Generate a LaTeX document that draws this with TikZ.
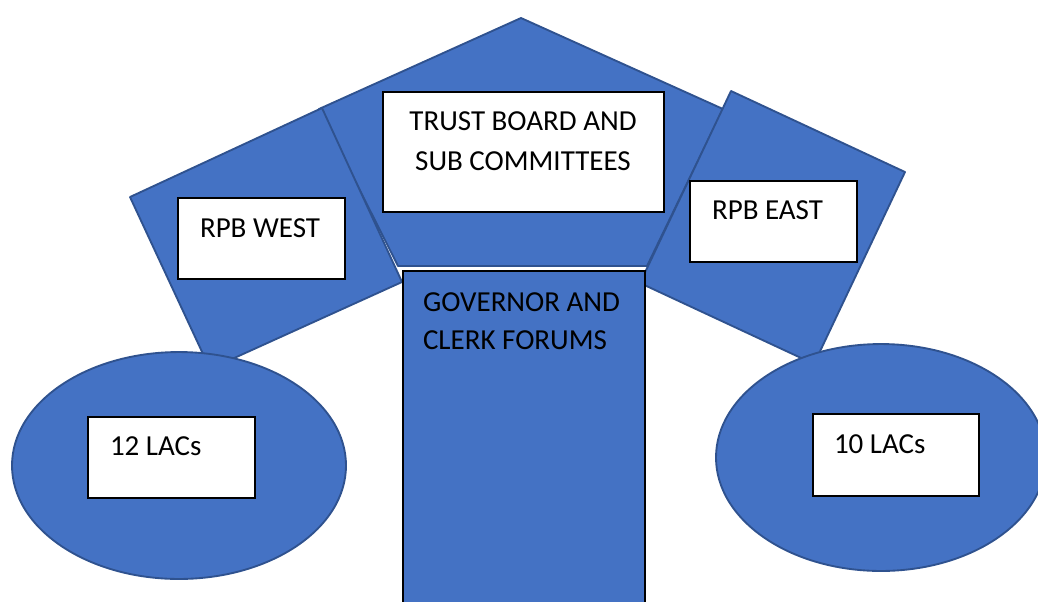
\documentclass[tikz,border=0pt]{standalone}
\usepackage{fontspec}
\setmainfont{Carlito}
\definecolor{fillblue}{HTML}{4472C4}
\definecolor{edgeblue}{HTML}{2F528F}
\begin{document}
\begin{tikzpicture}[x=0.75pt,y=-0.75pt,
  blueshape/.style={fill=fillblue, draw=edgeblue, line width=1.4pt, line join=round},
  whitebox/.style={draw=black, fill=white, line width=1.4pt, inner sep=0pt, outer sep=0pt, anchor=north west},
  forumbox/.style={draw=black, fill=fillblue, line width=1.2pt, inner sep=0pt, outer sep=0pt, anchor=north west},
  lbl/.style={anchor=base west, inner sep=0pt, outer sep=0pt, text=black, font=\fontsize{21.75}{30}\selectfont},
  clbl/.style={lbl, anchor=base}]
\useasboundingbox (0,0) rectangle (1038,601);
\clip (0,0) rectangle (1038,601);
% pentagon
\draw[blueshape] (521,18) -- (723,109) -- (647,266) -- (398,266) -- (319,109) -- cycle;
% rotated squares
\draw[blueshape] (130,197) -- (322,108) -- (402,282) -- (210,369) -- cycle;
\draw[blueshape] (731,91) -- (905,172) -- (814,364) -- (640,283) -- cycle;
% ellipses
\draw[blueshape] (179,465.5) ellipse [x radius=125.25pt, y radius=85.1pt];
\draw[blueshape] (881,457.5) ellipse [x radius=123.75pt, y radius=85.1pt];
% governor rectangle
\node[forumbox, minimum width=242*0.75pt, minimum height=360*0.75pt] (forum) at (403,271) {};
% white boxes
\node[whitebox, minimum width=281*0.75pt, minimum height=120*0.75pt] (trust) at (383,92) {};
\node[whitebox, minimum width=167*0.75pt, minimum height=81*0.75pt] (west) at (178,198) {};
\node[whitebox, minimum width=167*0.75pt, minimum height=81*0.75pt] (east) at (690,181) {};
\node[whitebox, minimum width=167*0.75pt, minimum height=81*0.75pt] (lacw) at (88,417) {};
\node[whitebox, minimum width=166*0.75pt, minimum height=82*0.75pt] (lace) at (813,414) {};
% texts
\node[clbl] (trustA) at (523,130) {TRUST BOARD AND};
\node[clbl] (trustB) at (523,170) {SUB COMMITTEES};
\node[lbl] (westT) at (200,237) {RPB WEST};
\node[lbl] (eastT) at (712,219) {RPB EAST};
\node[lbl] (forumA) at (423,311) {GOVERNOR AND};
\node[lbl] (forumB) at (423,349) {CLERK FORUMS};
\node[lbl] (lacwT) at (110,455) {12 LACs};
\node[lbl] (laceT) at (834,453) {10 LACs};
\end{tikzpicture}
\end{document}
